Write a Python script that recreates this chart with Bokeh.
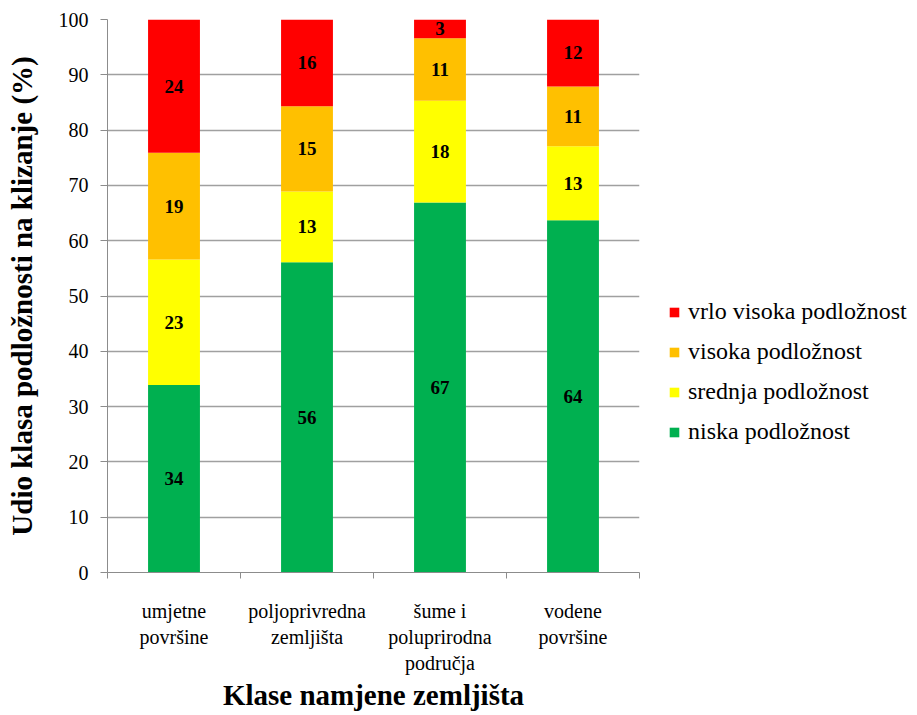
from bokeh.plotting import figure
from bokeh.models import (ColumnDataSource, Range1d, FixedTicker, Legend, LegendItem)
from bokeh.core.properties import value
from bokeh.embed import file_html
from bokeh.resources import INLINE

categories = ["umjetne\npovršine", "poljoprivredna\nzemljišta", "šume i\npoluprirodna\npodručja", "vodene\npovršine"]
niska = [33.9, 56.1, 66.9, 63.7]
srednja = [22.7, 12.8, 18.4, 13.4]
visoka = [19.3, 15.4, 11.3, 10.8]
vrlo_visoka = [24.1, 15.7, 3.4, 12.1]
series_names = ["niska podložnost", "srednja podložnost", "visoka podložnost", "vrlo visoka podložnost"]
colors = ["#00B050", "#FFFF00", "#FFC000", "#FF0000"]
y_ticks = list(range(0, 101, 10))

SERIF = "Liberation Serif"
xs = [i + 0.5 for i in range(len(categories))]
keys = ["niska", "srednja", "visoka", "vrlo"]
src = ColumnDataSource(dict(x=xs, niska=niska, srednja=srednja, visoka=visoka, vrlo=vrlo_visoka))

p = figure(frame_width=532, frame_height=553, output_backend="svg", toolbar_location=None,
           x_range=Range1d(0, len(categories)), y_range=Range1d(0, 100),
           min_border_left=107, min_border_top=19, min_border_right=262, min_border_bottom=0)
p.outline_line_color = None
p.background_fill_color = "white"
p.border_fill_color = "white"

rs = p.vbar_stack(keys, x="x", width=0.39, color=colors, line_color=None, source=src)

# segment labels
lx, ly, lt = [], [], []
for i in range(len(categories)):
    bottom = 0.0
    for arr in (niska, srednja, visoka, vrlo_visoka):
        v = arr[i]
        lx.append(xs[i]); ly.append(bottom + v / 2); lt.append(str(int(round(v))))
        bottom += v
p.text(x=lx, y=ly, text=lt, text_align="center", text_baseline="middle",
       text_font=value(SERIF), text_font_style="bold", text_font_size="19px", text_color="black")

# axes
ax = p.xaxis[0]
ax.ticker = FixedTicker(ticks=xs, minor_ticks=list(range(len(categories) + 1)))
ax.major_label_overrides = {x: c for x, c in zip(xs, categories)}
ax.major_tick_out = 0
ax.major_tick_in = 0
ax.minor_tick_out = 6
ax.minor_tick_in = 0
ax.minor_tick_line_color = "#8C8C8C"
ax.axis_line_color = "#8C8C8C"
ax.major_label_text_font = SERIF
ax.major_label_text_font_size = "20px"
ax.major_label_text_color = "black"
ax.major_label_standoff = 21
ax.axis_label = "Klase namjene zemljišta"
ax.axis_label_text_font = SERIF
ax.axis_label_text_font_style = "bold"
ax.axis_label_text_font_size = "29px"
ax.axis_label_text_color = "black"
ax.axis_label_standoff = 2

ay = p.yaxis[0]
ay.ticker = FixedTicker(ticks=y_ticks)
ay.major_tick_out = 7
ay.major_tick_in = 0
ay.minor_tick_out = 0
ay.minor_tick_in = 0
ay.major_tick_line_color = "#8C8C8C"
ay.axis_line_color = "#8C8C8C"
ay.major_label_text_font = SERIF
ay.major_label_text_font_size = "20px"
ay.major_label_text_color = "black"
ay.major_label_standoff = 12
ay.axis_label = "Udio klasa podložnosti na klizanje (%)"
ay.axis_label_text_font = SERIF
ay.axis_label_text_font_style = "bold"
ay.axis_label_text_font_size = "29px"
ay.axis_label_text_color = "black"
ay.axis_label_standoff = 18

p.xgrid.grid_line_color = None
p.ygrid.grid_line_color = "#A0A0A0"
p.ygrid.grid_line_width = 1.5

items = [LegendItem(label=series_names[i], renderers=[rs[i]]) for i in reversed(range(4))]
legend = Legend(items=items, location=(29, 127), padding=0, margin=0, spacing=13,
                glyph_width=12, glyph_height=12, label_standoff=8,
                label_text_font=SERIF, label_text_font_size="24px", label_text_color="black",
                border_line_color=None, background_fill_alpha=0)
p.add_layout(legend, "right")

open("out.html", "w").write(file_html(p, INLINE))
